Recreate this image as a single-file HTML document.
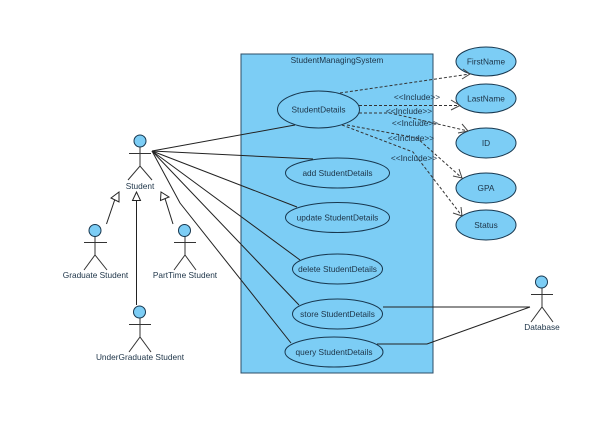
<!DOCTYPE html>
<html><head><meta charset="utf-8"><style>
html,body{margin:0;padding:0;background:#fff}
svg{display:block}
text{font-family:"Liberation Sans",sans-serif;font-size:8.3px;fill:#1c3347;text-anchor:middle}
.u{fill:#7ccdf5;stroke:#17374f;stroke-width:1}
.l{fill:none;stroke:#222;stroke-width:1}
.d{fill:none;stroke:#333;stroke-width:1;stroke-dasharray:3 2}
.a{fill:none;stroke:#444;stroke-width:1}
.t{fill:#fff;stroke:#222;stroke-width:1}
.s{fill:none;stroke:#333;stroke-width:1}
</style></head><body>
<svg width="605" height="421" viewBox="0 0 605 421" xmlns="http://www.w3.org/2000/svg">
<rect width="605" height="421" fill="#fff"/>
<rect x="241" y="54" width="192" height="319" fill="#7ccdf5" stroke="#2c4d66" stroke-width="1"/>
<text x="337" y="63">StudentManagingSystem</text>

<!-- use cases -->
<ellipse class="u" cx="318.500" cy="109.500" rx="41" ry="18.500"/>
<ellipse class="u" cx="337.500" cy="173" rx="52" ry="15"/>
<ellipse class="u" cx="337.500" cy="217.500" rx="52" ry="15"/>
<ellipse class="u" cx="337.500" cy="269" rx="45" ry="15"/>
<ellipse class="u" cx="337.500" cy="314" rx="45" ry="15"/>
<ellipse class="u" cx="334" cy="352" rx="49" ry="15"/>
<ellipse class="u" cx="486" cy="61.500" rx="30" ry="14.500"/>
<ellipse class="u" cx="486" cy="98.500" rx="30" ry="14.500"/>
<ellipse class="u" cx="486" cy="143" rx="30" ry="15"/>
<ellipse class="u" cx="486" cy="188" rx="30" ry="15"/>
<ellipse class="u" cx="486" cy="225" rx="30" ry="15"/>

<!-- associations -->
<path class="l" d="M152 151L295 125"/>
<path class="l" d="M152 151L313 159"/>
<path class="l" d="M152 151L297 207"/>
<path class="l" d="M152 151L300 260"/>
<path class="l" d="M152 151L299 305"/>
<path class="l" d="M152 151L180 203L291 343"/>
<path class="l" d="M383 307H530"/>
<path class="l" d="M377 344H427L530 307"/>

<!-- include -->
<path class="d" d="M340 93L470 74"/>
<path class="a" d="M463 69L470 74L462 79"/>
<path class="d" d="M359 105.500H460"/>
<path class="a" d="M451 100L460 105.500L451 110"/>
<path class="d" d="M359 113H390L468 131"/>
<path class="a" d="M462 124L468 131L458 133"/>
<path class="d" d="M347 125L417 138L462 178"/>
<path class="a" d="M459 169L462 178L453 176"/>
<path class="d" d="M342 125L413 152L462 216"/>
<path class="a" d="M461 207L462 216L453 213"/>

<text x="417" y="100">&lt;&lt;Include&gt;&gt;</text>
<text x="409" y="114">&lt;&lt;Include&gt;&gt;</text>
<text x="415" y="126">&lt;&lt;Include&gt;&gt;</text>
<text x="411" y="141">&lt;&lt;Include&gt;&gt;</text>
<text x="414" y="161">&lt;&lt;Include&gt;&gt;</text>

<text x="318.500" y="112.500">StudentDetails</text>
<text x="337.500" y="176">add StudentDetails</text>
<text x="337.500" y="220.500">update StudentDetails</text>
<text x="337.500" y="272">delete StudentDetails</text>
<text x="337.500" y="317">store StudentDetails</text>
<text x="334" y="355">query StudentDetails</text>
<text x="486" y="64.500">FirstName</text>
<text x="486" y="101.500">LastName</text>
<text x="486" y="146">ID</text>
<text x="486" y="191">GPA</text>
<text x="486" y="228">Status</text>

<!-- generalizations -->
<path class="l" d="M106.500 224L115 199"/>
<path class="t" d="M119 192L111 198L119 202Z"/>
<path class="l" d="M136.500 305V200"/>
<path class="t" d="M136.500 192L132.500 200.500H140.500Z"/>
<path class="l" d="M173 224L165 198.500"/>
<path class="t" d="M161 192L160.500 200.500L169 197Z"/>

<!-- actors -->
<g>
<path class="s" d="M129 153.500H151M140 147V166M128 180L140 166L152 180"/>
<circle class="u" cx="140" cy="141" r="6"/>
<text x="140" y="189">Student</text>
</g>
<g>
<path class="s" d="M84 242.500H107M95 236V255M84 270L95 255L107 270"/>
<circle class="u" cx="95" cy="230.500" r="6"/>
<text x="95.500" y="278">Graduate Student</text>
</g>
<g>
<path class="s" d="M174 242.500H196M185 236V255M174 270L185 255L196 270"/>
<circle class="u" cx="184.500" cy="230.500" r="6"/>
<text x="185" y="278">PartTime Student</text>
</g>
<g>
<path class="s" d="M129 324.500H151M140 318V337M129 352L140 337L151 352"/>
<circle class="u" cx="139.500" cy="312" r="6"/>
<text x="140" y="360">UnderGraduate Student</text>
</g>
<g>
<path class="s" d="M531 294.500H553M542 288V307M531 322L542 307L553 322"/>
<circle class="u" cx="541.500" cy="282" r="6"/>
<text x="542" y="330">Database</text>
</g>
</svg>
</body></html>
